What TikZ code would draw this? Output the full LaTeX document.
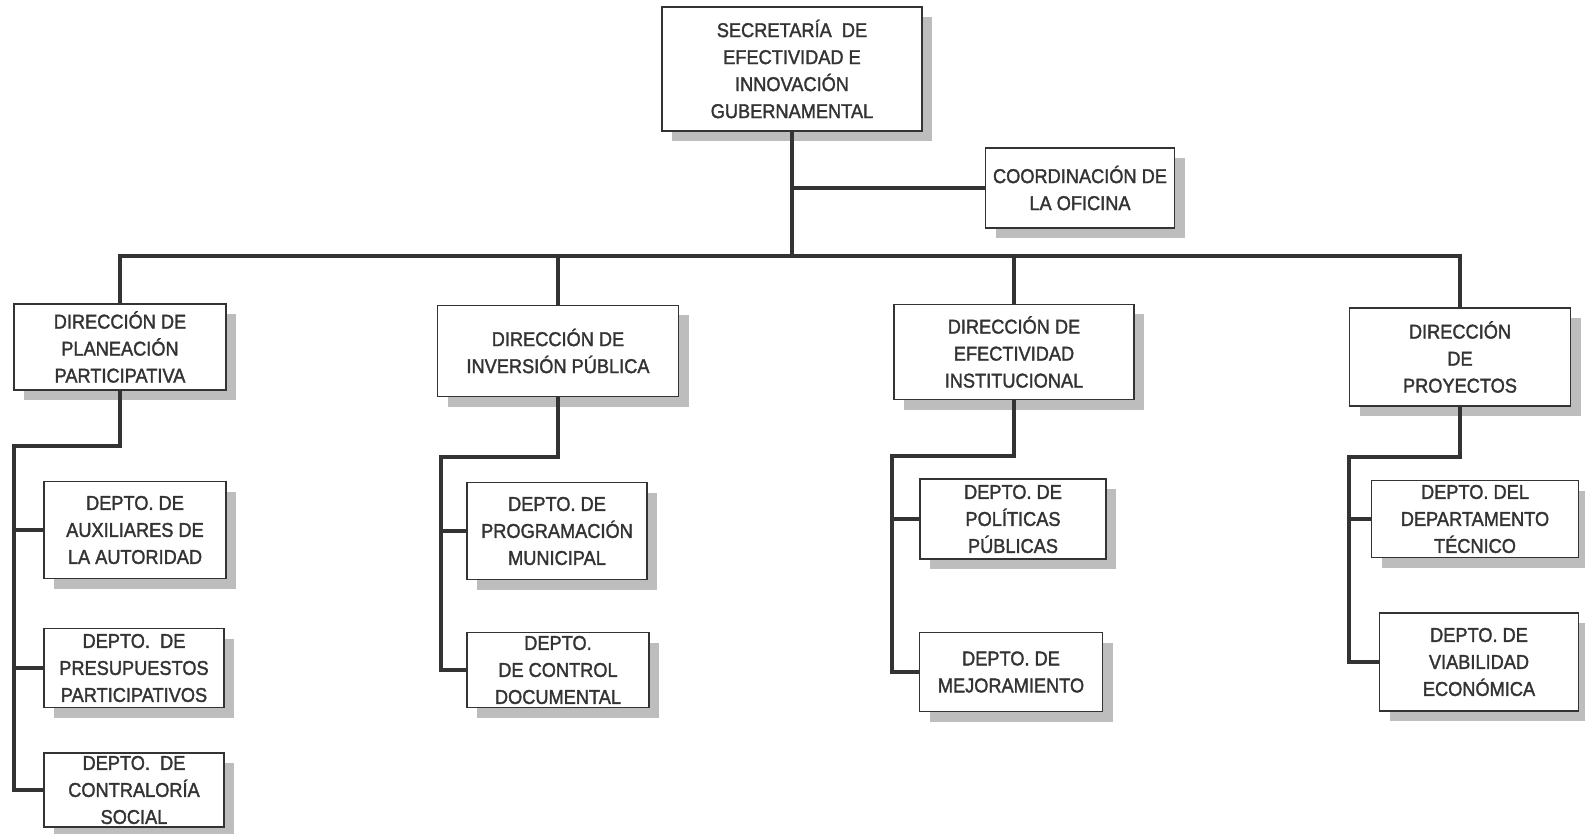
\documentclass[tikz,border=0pt]{standalone}
\usepackage{fontspec}
\setmainfont[FakeStretch=0.91, FakeBold=1.6]{Liberation Sans}
\usetikzlibrary{shadows}
\definecolor{ink}{HTML}{333333}
\definecolor{shade}{HTML}{BDBDBD}

\begin{document}
\begin{tikzpicture}[x=1pt, y=-1pt,
    box/.style={draw=ink, line width=1.3pt, fill=white, align=center, inner sep=2pt, text=ink,
        font=\fontsize{20}{27}\selectfont,
        drop shadow={shadow xshift=10pt, shadow yshift=-10pt, fill=shade, opacity=1}},
    link/.style={draw=ink, line width=4.5pt}]
    \useasboundingbox [fill=white] (0,0) rectangle (1585,834);

    \node [box, minimum width=260pt, minimum height=124pt] (top) at (792,69) {SECRETARÍA \ DE\\EFECTIVIDAD E\\INNOVACIÓN\\GUBERNAMENTAL};
    \node [box, minimum width=189pt, minimum height=80pt] (coord) at (1080,188) {COORDINACIÓN DE\\LA OFICINA};

    \node [box, minimum width=212pt, minimum height=86pt] (plan) at (120,347) {DIRECCIÓN DE\\PLANEACIÓN\\PARTICIPATIVA};
    \node [box, minimum width=241pt, minimum height=91pt] (inv) at (558,351) {DIRECCIÓN DE\\INVERSIÓN PÚBLICA};
    \node [box, minimum width=240pt, minimum height=95pt] (efec) at (1014,352) {DIRECCIÓN DE\\EFECTIVIDAD\\INSTITUCIONAL};
    \node [box, minimum width=221pt, minimum height=98pt] (proy) at (1460,357) {DIRECCIÓN\\DE\\PROYECTOS};

    \node [box, minimum width=182pt, minimum height=97pt] (aux) at (135,530) {DEPTO. DE\\AUXILIARES DE\\LA AUTORIDAD};
    \node [box, minimum width=180pt, minimum height=79pt] (pres) at (134,668) {DEPTO. \ DE\\PRESUPUESTOS\\PARTICIPATIVOS};
    \node [box, minimum width=180pt, minimum height=74pt] (contra) at (134,790) {DEPTO. \ DE\\CONTRALORÍA\\SOCIAL};

    \node [box, minimum width=180pt, minimum height=97pt] (prog) at (557,531) {DEPTO. DE\\PROGRAMACIÓN\\MUNICIPAL};
    \node [box, minimum width=182pt, minimum height=75pt] (doc) at (558,670) {DEPTO.\\DE CONTROL\\DOCUMENTAL};

    \node [box, minimum width=186pt, minimum height=80pt] (pol) at (1013,519) {DEPTO. DE\\POLÍTICAS\\PÚBLICAS};
    \node [box, minimum width=183pt, minimum height=79pt] (mej) at (1011,672) {DEPTO. DE\\MEJORAMIENTO};

    \node [box, minimum width=207pt, minimum height=77pt] (tec) at (1475,519) {DEPTO. DEL\\DEPARTAMENTO\\TÉCNICO};
    \node [box, minimum width=199pt, minimum height=98pt] (viab) at (1479,662) {DEPTO. DE\\VIABILIDAD\\ECONÓMICA};

    \coordinate (bar) at (0,256);
    \draw [link] (top.south) -- (top.south |- bar);
    \draw [link] (top.south |- coord.west) -- (coord.west);
    \draw [link] (plan.north) -- (plan.north |- bar) -- (proy.north |- bar) -- (proy.north);
    \foreach \d in {inv, efec}
        \draw [link] (\d.north) -- (\d.north |- bar);

    \coordinate (k1) at (14,446);
    \coordinate (k2) at (441,457);
    \coordinate (k3) at (892,456);
    \coordinate (k4) at (1349,457);
    \draw [link] (plan.south) |- (k1) |- (contra.west);
    \draw [link] (inv.south) |- (k2) |- (doc.west);
    \draw [link] (efec.south) |- (k3) |- (mej.west);
    \draw [link] (proy.south) |- (k4) |- (viab.west);
    \foreach \k/\b in {k1/aux, k1/pres, k2/prog, k3/pol, k4/tec}
        \draw [link] (\k |- \b.west) -- (\b.west);
\end{tikzpicture}
\end{document}
